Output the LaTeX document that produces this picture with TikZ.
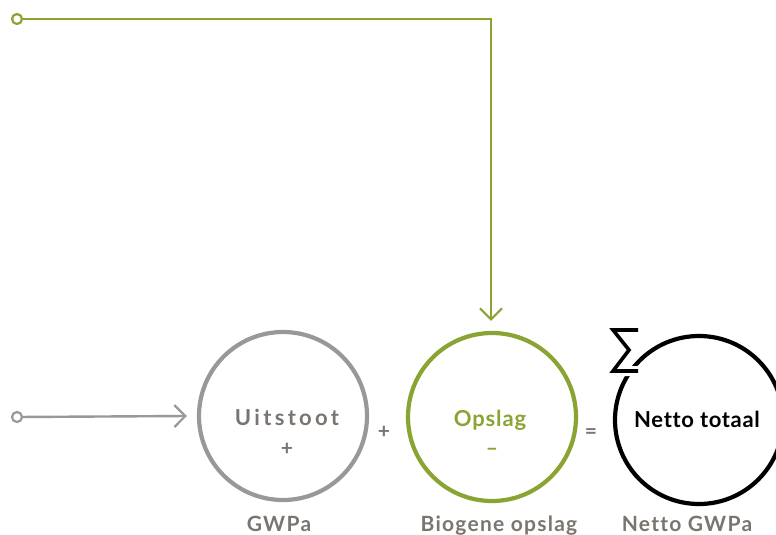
\documentclass[tikz,border=0pt]{standalone}
\usepackage{fontspec}
\setmainfont{Lato}[Ligatures=NoCommon]
\usetikzlibrary{arrows.meta, positioning}

\definecolor{leaf}{RGB}{138,164,52}
\definecolor{ash}{RGB}{152,152,152}
\definecolor{stone}{RGB}{122,117,112}

\begin{document}
\begin{tikzpicture}[
        x=1pt, y=-1pt,
        semithick
    ]

    \tikzset{
        ring/.style={draw, circle, line width=4.2pt, minimum size=168pt, inner sep=0pt},
        port/.style={draw, circle, line width=2.2pt, fill=white, minimum size=10pt, inner sep=0pt},
        flow/.style={line width=2.4pt, -{Straight Barb[length=11pt, width=22pt, line width=2.2pt]}},
        word/.style={font=\bfseries\fontsize{22}{26}\selectfont, anchor=base, inner sep=0pt},
        sign/.style={font=\bfseries\fontsize{21}{24}\selectfont, anchor=base, inner sep=0pt, text=stone},
        caption/.style={font=\bfseries\fontsize{21}{25}\selectfont, anchor=base, inner sep=0pt, text=stone}
    }

    \useasboundingbox (0,0) rectangle (776,535);

    % the three rings
    \node[ring, draw=ash] (uit) at (283,416) {};
    \node[ring, draw=leaf] (ops) at (492,417) {};
    \node[ring, draw=black] (net) at (699,420) {};

    % sum sign on the last ring
    \draw[white, line width=10pt, miter limit=10]
        (638,330) -- (613,330) -- (629,350) -- (613,371) -- (638,371);
    \draw[black, line width=3.6pt, miter limit=10]
        (638,330) -- (613,330) -- (629,350) -- (613,371) -- (638,371);

    % texts in the rings
    \node[word, text=stone] (uitw) at (287,425) {\addfontfeature{LetterSpace=15}Uitstoot};
    \node[sign] (uitp) at (287,455) {+};
    \node[word, text=leaf] (opsw) at (490,426) {\addfontfeature{LetterSpace=4}Opslag};
    \node[sign, text=leaf] (opsm) at (492,455) {–};
    \node[word, text=black] (netw) at (697,427) {\addfontfeature{LetterSpace=3}Netto totaal};

    % operators between the rings
    \node[sign] (plus) at (384,438) {+};
    \node[sign] (equal) at (591,438) {=};

    % captions
    \node[caption] (gwpa) at (279,531) {\addfontfeature{LetterSpace=6}GWPa};
    \node[caption] (bio) at (499,531) {\addfontfeature{LetterSpace=6}Biogene opslag};
    \node[caption] (ngwpa) at (687,531) {\addfontfeature{LetterSpace=6}Netto GWPa};

    % inputs
    \node[port, draw=leaf] (leafin) at (17,19) {};
    \node[port, draw=ash] (ashin) at (17,417) {};
    \coordinate (bend) at (491,19);

    \draw[flow, leaf] (leafin) -- (bend) -- ([xshift=-1pt, yshift=10pt]ops.north);
    \draw[flow, ash] (ashin) -- ([xshift=-10pt]uit.west);

\end{tikzpicture}
\end{document}
